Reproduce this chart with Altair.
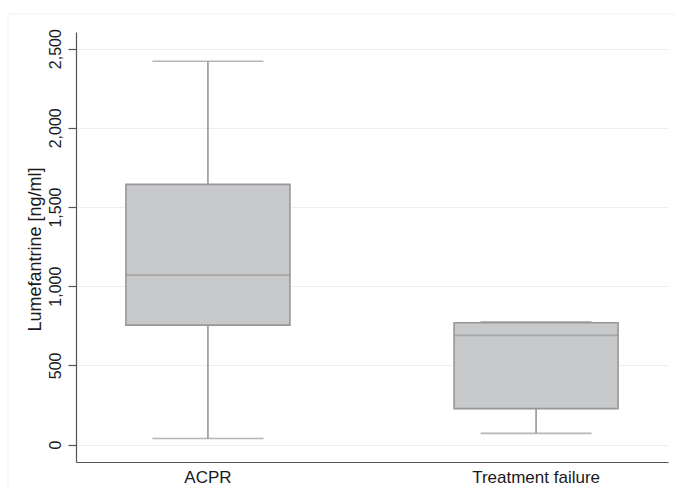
import altair as alt
import pandas as pd

# Lumefantrine concentration by treatment outcome (box-plot summaries)
groups = ["ACPR", "Treatment failure"]
lower_whisker = [38, 71]
q1 = [754, 227]
median = [1070, 689]
q3 = [1643, 769]
upper_whisker = [2420, 775]

y_ticks = [0, 500, 1000, 1500, 2000, 2500]

df = pd.DataFrame({
    "group": groups,
    "lo": lower_whisker,
    "q1": q1,
    "med": median,
    "q3": q3,
    "hi": upper_whisker,
})

FONT = "Liberation Sans"
BOX_FILL = "#c8c9cb"
BOX_LINE = "#979797"
AXIS_COL = "#555555"

x_enc = alt.X(
    "group:N",
    sort=groups,
    scale=alt.Scale(paddingInner=0.4, paddingOuter=0.102),
    axis=alt.Axis(
        title=None, ticks=False, labelAngle=0, labelFont=FONT,
        labelFontSize=17, labelColor="#1a1a1a", labelPadding=7,
        domainColor=AXIS_COL, domainWidth=1.2, grid=False,
    ),
)

y_scale = alt.Scale(domain=[-110, 2605], nice=False, zero=False)
y_axis = alt.Axis(
    title="Lumefantrine [ng/ml]",
    values=y_ticks, format=",d",
    labelAngle=270, labelAlign="center", labelBaseline="bottom",
    labelFont=FONT, labelFontSize=16, labelColor="#1a1a1a", labelPadding=5,
    tickSize=8, tickColor=AXIS_COL, tickWidth=1.2,
    domainColor=AXIS_COL, domainWidth=1.2,
    grid=True, gridColor="#e8f0f2", gridWidth=1.2,
    titleFont=FONT, titleFontSize=18, titleFontWeight="normal",
    titleColor="#1a1a1a", titleAngle=270, titleAlign="center",
    titleBaseline="alphabetic", titleX=-36, titleY=217,
)

base = alt.Chart(df)

whisker_low = base.mark_rule(color=BOX_LINE, strokeWidth=1.6).encode(
    x=x_enc, y=alt.Y("lo:Q", scale=y_scale, axis=y_axis), y2="q1:Q"
)
whisker_high = base.mark_rule(color=BOX_LINE, strokeWidth=1.6).encode(
    x=x_enc, y=alt.Y("q3:Q", scale=y_scale), y2="hi:Q"
)
cap_low = base.mark_tick(color=BOX_LINE, size=111, thickness=1.6).encode(
    x=x_enc, y=alt.Y("lo:Q", scale=y_scale)
)
cap_high = base.mark_tick(color=BOX_LINE, size=111, thickness=1.6).encode(
    x=x_enc, y=alt.Y("hi:Q", scale=y_scale)
)
box = base.mark_bar(
    size=164, fill=BOX_FILL, stroke=BOX_LINE, strokeWidth=1.6
).encode(x=x_enc, y=alt.Y("q1:Q", scale=y_scale), y2="q3:Q")
mid = base.mark_tick(color=BOX_LINE, size=164, thickness=1.8).encode(
    x=x_enc, y=alt.Y("med:Q", scale=y_scale)
)

# faint outer frame of the graph region
frame_left = alt.Chart(df.head(1)).mark_rule(
    color="#eef1f2", strokeWidth=1, clip=False
).encode(x=alt.value(-68), y=alt.value(-18), y2=alt.value(470))
frame_top = alt.Chart(df.head(1)).mark_rule(
    color="#eef1f2", strokeWidth=1, clip=False
).encode(x=alt.value(-68), x2=alt.value(620), y=alt.value(-18))

chart = alt.layer(
    frame_left, frame_top,
    whisker_low, whisker_high, cap_low, cap_high, box, mid,
).properties(
    width=592, height=430,
    autosize=alt.AutoSizeParams(type="none"),
    padding={"left": 76, "top": 32, "right": 7, "bottom": 26},
    background="white",
).configure_view(stroke=None)

chart.save("out.html", embed_options={"renderer": "svg", "actions": False})
